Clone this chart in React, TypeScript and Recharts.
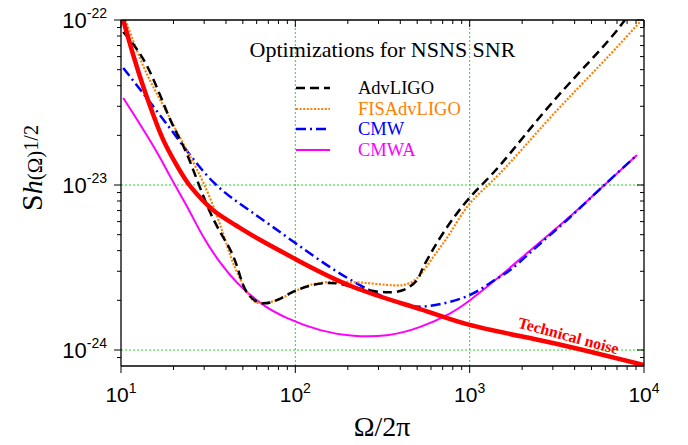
import React from 'react';
import { LineChart, Line, XAxis, YAxis, ReferenceLine, ReferenceDot } from 'recharts';

// ---- data ----
const techF = [10.3, 11.8, 13.5, 15.4, 17.5, 20.5, 24.0, 28.6, 34.8, 45.3, 63.0, 100, 215, 520, 1000, 2310, 4470, 10000];
const techS = [1e-22, 6.05e-23, 3.87e-23, 2.62e-23, 1.87e-23, 1.36e-23, 1.04e-23, 8.34e-24, 6.86e-24, 5.72e-24, 4.64e-24, 3.56e-24, 2.41e-24, 1.77e-24, 1.42e-24, 1.17e-24, 1.0e-24, 8.11e-25];

const advF = [10.3, 14.2, 19.2, 24.0, 32.6, 42.4, 48.4, 53.1, 63.0, 78.9, 102.6, 152, 215, 307, 416, 500, 542, 705, 1007, 1496, 2890, 5600, 7780];
const advS = [8.46e-23, 5.19e-23, 2.48e-23, 1.52e-23, 6.76e-24, 4.04e-24, 2.77e-24, 2.21e-24, 1.93e-24, 2.01e-24, 2.31e-24, 2.55e-24, 2.41e-24, 2.25e-24, 2.31e-24, 2.66e-24, 3.18e-24, 5.12e-24, 8.45e-24, 1.32e-23, 3.05e-23, 6.58e-23, 1e-22];

const fisF = [10.6, 13.5, 16.8, 21.1, 25.0, 29.7, 35.7, 40.8, 46.5, 55.2, 63.0, 78.9, 102.6, 139, 215, 336, 416, 500, 618, 773, 1007, 1496, 2890, 5600, 9480];
const fisS = [1e-22, 5.19e-23, 3.27e-23, 2.07e-23, 1.48e-23, 1.03e-23, 6.4e-24, 4.21e-24, 2.93e-24, 2.09e-24, 1.93e-24, 2.01e-24, 2.31e-24, 2.55e-24, 2.58e-24, 2.48e-24, 2.48e-24, 2.73e-24, 3.66e-24, 5.12e-24, 7.78e-24, 1.18e-23, 2.55e-23, 5.33e-23, 9.73e-23];

const cmwF = [10.3, 14.8, 21.9, 33.9, 55.2, 100, 199, 384, 594, 968, 1310, 1706, 2310, 3620, 5600, 9120];
const cmwS = [5.12e-23, 3.14e-23, 1.82e-23, 1.04e-23, 6.95e-24, 4.45e-24, 2.73e-24, 1.95e-24, 1.85e-24, 2.12e-24, 2.55e-24, 3.05e-24, 4.04e-24, 6.14e-24, 9.46e-24, 1.52e-23];

const cmwaF = [10.3, 12.4, 16.2, 19.2, 24.0, 29.7, 37.2, 46.5, 63.0, 89.9, 139, 215, 336, 520, 773, 1007, 1496, 2310, 3620, 5600, 9120];
const cmwaS = [3.37e-23, 2.48e-23, 1.56e-23, 1.12e-23, 7.36e-24, 4.84e-24, 3.37e-24, 2.55e-24, 1.93e-24, 1.56e-24, 1.32e-24, 1.22e-24, 1.23e-24, 1.38e-24, 1.67e-24, 2.01e-24, 2.81e-24, 4.15e-24, 6.22e-24, 9.46e-24, 1.52e-23];

const seriesNames = ['AdvLIGO', 'FISAdvLIGO', 'CMW', 'CMWA'];
const seriesColors = ['#000000', '#ff8000', '#0000ff', '#ff00ff'];
const seriesDash = ['9 5', '2 1.6', '10 4 2 4', ''];
const seriesWidth = [2.5, 2.2, 2.5, 2];

const titleText = 'Optimizations for NSNS SNR';
const techLabel = 'Technical noise';
const techLabelPos = { f: 3620, s: 1.135e-24 };

const xMajor = [10, 100, 1000, 10000];
const yDecades = [1e-25, 1e-24, 1e-23];
const minorMult = [1, 2, 3, 4, 5, 6, 7, 8, 9];
const xDomain = [10, 10000];
const yDomain = [8e-25, 1e-22];
const xGrid = [100, 1000];
const yGrid = [1e-24, 1e-23];

const zip = (f: number[], s: number[]) => f.map((v, i) => ({ f: v, v: s[i] }));
const techData = zip(techF, techS);
const advData = zip(advF, advS);
const fisData = zip(fisF, fisS);
const cmwData = zip(cmwF, cmwS);
const cmwaData = zip(cmwaF, cmwaS);

const xTicks: number[] = [];
xMajor.forEach((m, i) => {
  if (i < xMajor.length - 1) minorMult.forEach((k) => xTicks.push(m * k));
  else xTicks.push(m);
});
const yTicks: number[] = [];
yDecades.forEach((d) => minorMult.forEach((k) => { const v = d * k; if (v > 8.5e-25) yTicks.push(v); }));
yTicks.push(1e-22);

const isMajor = (v: number) => Math.abs(Math.log10(v) - Math.round(Math.log10(v))) < 1e-6;
const expOf = (v: number) => Math.round(Math.log10(v));

const SANS = 'Liberation Sans, Arial, sans-serif';
const SERIF = 'Liberation Serif, Times New Roman, serif';

const BottomTick = (p: any) => {
  const { x, y, payload } = p;
  const v = payload.value;
  const major = isMajor(v);
  return (
    <g>
      <line x1={x} x2={x} y1={y} y2={y + (major ? 7 : 4)} stroke="#000" strokeWidth={1} />
      {major && (
        <text x={x} y={y + 36} textAnchor="middle" fontFamily={SANS} fontSize={21} fill="#000">
          10<tspan dy={-9} fontSize={14}>{expOf(v)}</tspan>
        </text>
      )}
    </g>
  );
};
const TopTick = (p: any) => {
  const { x, y, payload } = p;
  const major = isMajor(payload.value);
  return <line x1={x} x2={x} y1={y} y2={y + (major ? 7 : 4)} stroke="#000" strokeWidth={1} />;
};
const LeftTick = (p: any) => {
  const { x, y, payload } = p;
  const v = payload.value;
  const major = isMajor(v);
  return (
    <g>
      <line x1={x - (major ? 7 : 4)} x2={x} y1={y} y2={y} stroke="#000" strokeWidth={1} />
      {major && (
        <text x={x - 14} y={y + 8} textAnchor="end" fontFamily={SANS} fontSize={22} fill="#000">
          10<tspan dy={-10} fontSize={14}>{expOf(v)}</tspan>
        </text>
      )}
    </g>
  );
};
const RightTick = (p: any) => {
  const { x, y, payload } = p;
  const major = isMajor(payload.value);
  return <line x1={x - (major ? 7 : 4)} x2={x} y1={y} y2={y} stroke="#000" strokeWidth={1} />;
};

const axisLine = { stroke: '#000', strokeWidth: 1.3 };
const gridStyle = { stroke: '#22dd22', strokeWidth: 1, strokeDasharray: '2 2' };

export default function App() {
  const legendRows = [88, 109, 129, 150];
  return (
    <div style={{ position: 'absolute', left: 0, top: 0, width: 688, height: 445, background: '#fff' }}>
      <LineChart width={688} height={445} margin={{ top: 15, right: 34, bottom: 19, left: 0 }}>
        <XAxis xAxisId="b" dataKey="f" type="number" scale="log" domain={xDomain} allowDataOverflow
          ticks={xTicks} interval={0} tick={<BottomTick />} tickLine={false} tickSize={0} tickMargin={0}
          axisLine={axisLine} height={60} />
        <XAxis xAxisId="t" orientation="top" dataKey="f" type="number" scale="log" domain={xDomain} allowDataOverflow
          ticks={xTicks} interval={0} tick={<TopTick />} tickLine={false} tickSize={0} tickMargin={0}
          axisLine={axisLine} height={5} />
        <YAxis yAxisId="l" type="number" scale="log" domain={yDomain} allowDataOverflow
          ticks={yTicks} interval={0} tick={<LeftTick />} tickLine={false} tickSize={0} tickMargin={0}
          axisLine={axisLine} width={121} />
        <YAxis yAxisId="r" orientation="right" type="number" scale="log" domain={yDomain} allowDataOverflow
          ticks={yTicks} interval={0} tick={<RightTick />} tickLine={false} tickSize={0} tickMargin={0}
          axisLine={axisLine} width={10} />
        {xGrid.map((g) => (
          <ReferenceLine key={'x' + g} x={g} xAxisId="b" yAxisId="l" {...gridStyle} />
        ))}
        {yGrid.map((g) => (
          <ReferenceLine key={'y' + g} y={g} xAxisId="b" yAxisId="l" {...gridStyle} />
        ))}
        <Line xAxisId="b" yAxisId="l" data={cmwaData} dataKey="v" name={seriesNames[3]} type="natural"
          stroke={seriesColors[3]} strokeWidth={seriesWidth[3]} dot={false} activeDot={false} isAnimationActive={false} />
        <Line xAxisId="b" yAxisId="l" data={cmwData} dataKey="v" name={seriesNames[2]} type="natural"
          stroke={seriesColors[2]} strokeWidth={seriesWidth[2]} strokeDasharray={seriesDash[2]} dot={false} activeDot={false} isAnimationActive={false} />
        <Line xAxisId="b" yAxisId="l" data={fisData} dataKey="v" name={seriesNames[1]} type="natural"
          stroke={seriesColors[1]} strokeWidth={seriesWidth[1]} strokeDasharray={seriesDash[1]} dot={false} activeDot={false} isAnimationActive={false} />
        <Line xAxisId="b" yAxisId="l" data={advData} dataKey="v" name={seriesNames[0]} type="natural"
          stroke={seriesColors[0]} strokeWidth={seriesWidth[0]} strokeDasharray={seriesDash[0]} dot={false} activeDot={false} isAnimationActive={false} />
        <Line xAxisId="b" yAxisId="l" data={techData} dataKey="v" name="Technical noise" type="natural"
          stroke="#ff0000" strokeWidth={4.5} dot={false} activeDot={false} isAnimationActive={false} />
        <ReferenceDot xAxisId="b" yAxisId="l" x={techLabelPos.f} y={techLabelPos.s} r={0}
          shape={(p: any) => (
            <text x={p.cx} y={p.cy} transform={`rotate(15 ${p.cx} ${p.cy})`} textAnchor="middle"
              fontFamily={SERIF} fontWeight="bold" fontSize={16} fill="#ff0000">{techLabel}</text>
          )} />
      </LineChart>
      <svg width={688} height={445} style={{ position: 'absolute', left: 0, top: 0, pointerEvents: 'none' }}>
        <text x={382.5} y={57} textAnchor="middle" fontFamily={SERIF} fontSize={22} fill="#000">{titleText}</text>
        {seriesNames.map((n, i) => (
          <g key={n}>
            <line x1={296} x2={330} y1={legendRows[i]} y2={legendRows[i]} stroke={seriesColors[i]}
              strokeWidth={seriesWidth[i]} strokeDasharray={seriesDash[i] || undefined} />
            <text x={358} y={legendRows[i] + 6} fontFamily={SERIF} fontSize={18.5} fill={seriesColors[i]}>{n}</text>
          </g>
        ))}
        <text x={382} y={436} textAnchor="middle" fontFamily={SERIF} fontSize={28} fill="#000">Ω/2π</text>
        <text x={42} y={168} transform="rotate(-90 42 168)" textAnchor="middle" fontFamily={SERIF} fill="#000">
          <tspan fontSize={30}>S</tspan>
          <tspan fontSize={28} fontStyle="italic">h</tspan>
          <tspan fontSize={21}>(Ω)</tspan>
          <tspan fontSize={20} dy={-4}>1/2</tspan>
        </text>
      </svg>
    </div>
  );
}
